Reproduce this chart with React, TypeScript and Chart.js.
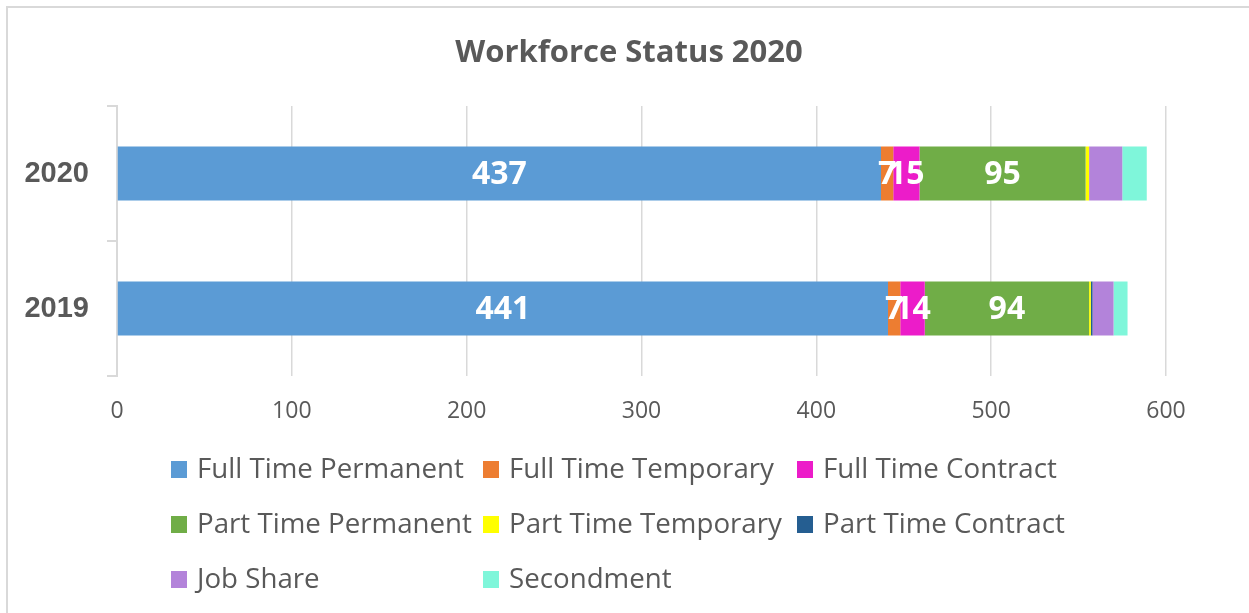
import React, { useEffect, useRef } from "react";
import Chart from "chart.js/auto";

// ---------- Data ----------
const TITLE = "Workforce Status 2020";
const CATEGORIES = ["2020", "2019"];

const FULL_TIME_PERMANENT = [437, 441];
const FULL_TIME_TEMPORARY = [7, 7];
const FULL_TIME_CONTRACT = [15, 14];
const PART_TIME_PERMANENT = [95, 94];
const PART_TIME_TEMPORARY = [2, 1];
const PART_TIME_CONTRACT = [0, 1];
const JOB_SHARE = [19, 12];
const SECONDMENT = [14, 8];

const SERIES_NAMES = [
  "Full Time Permanent",
  "Full Time Temporary",
  "Full Time Contract",
  "Part Time Permanent",
  "Part Time Temporary",
  "Part Time Contract",
  "Job Share",
  "Secondment",
];
const SERIES_VALUES = [
  FULL_TIME_PERMANENT,
  FULL_TIME_TEMPORARY,
  FULL_TIME_CONTRACT,
  PART_TIME_PERMANENT,
  PART_TIME_TEMPORARY,
  PART_TIME_CONTRACT,
  JOB_SHARE,
  SECONDMENT,
];
const SERIES_COLORS = [
  "#5B9BD5",
  "#ED7D31",
  "#EC1CC9",
  "#70AD47",
  "#FFFF00",
  "#255E91",
  "#B383DA",
  "#7FF6DA",
];
const SHOW_VALUE_LABEL = [true, true, true, true, false, false, false, false];

const X_MIN = 0;
const X_MAX = 600;
const X_STEP = 100;

// ---------- Styling ----------
const TEXT_COLOR = "#595959";
const GRID_COLOR = "#d9d9d9";
const SANS = "'Open Sans', 'Noto Sans', sans-serif";

const framePlugin = {
  id: "frame",
  beforeDraw(chart: any) {
    const ctx = chart.ctx;
    ctx.save();
    ctx.fillStyle = "#ffffff";
    ctx.fillRect(0, 0, chart.width, chart.height);
    ctx.strokeStyle = GRID_COLOR;
    ctx.lineWidth = 2;
    ctx.beginPath();
    ctx.moveTo(7, chart.height + 5);
    ctx.lineTo(7, 7);
    ctx.lineTo(chart.width + 5, 7);
    ctx.stroke();
    ctx.restore();
  },
};

const valueLabelPlugin = {
  id: "valueLabels",
  afterDatasetsDraw(chart: any) {
    const ctx = chart.ctx;
    ctx.save();
    ctx.fillStyle = "#ffffff";
    ctx.font = `bold 32px ${SANS}`;
    ctx.textAlign = "center";
    ctx.textBaseline = "middle";
    chart.data.datasets.forEach((ds: any, i: number) => {
      if (!SHOW_VALUE_LABEL[i]) return;
      const meta = chart.getDatasetMeta(i);
      meta.data.forEach((bar: any, j: number) => {
        const v = ds.data[j];
        if (!v) return;
        const cx = (bar.x + bar.base) / 2;
        ctx.fillText(String(v), cx, bar.y + 1);
      });
    });
    ctx.restore();
  },
};

const titleLegendPlugin = {
  id: "titleLegend",
  afterDraw(chart: any) {
    const ctx = chart.ctx;
    ctx.save();
    // Title
    ctx.fillStyle = TEXT_COLOR;
    ctx.font = `bold 31px ${SANS}`;
    ctx.textAlign = "center";
    ctx.textBaseline = "alphabetic";
    ctx.fillText(TITLE, 629, 61.5);

    // Legend (3 columns)
    const colBoxX = [171, 483, 797];
    const rowBaseline = [478, 533, 588];
    ctx.font = `27.7px ${SANS}`;
    ctx.textAlign = "left";
    chart.data.datasets.forEach((ds: any, i: number) => {
      const col = i % 3;
      const row = Math.floor(i / 3);
      const bx = colBoxX[col];
      const by = rowBaseline[row];
      ctx.fillStyle = ds.backgroundColor;
      ctx.fillRect(bx, by - 17, 16, 17);
      ctx.fillStyle = TEXT_COLOR;
      ctx.fillText(ds.label, bx + 26, by);
    });
    ctx.restore();
  },
};

export default function App() {
  const canvasRef = useRef<HTMLCanvasElement | null>(null);

  useEffect(() => {
    document.body.style.margin = "0";
    document.body.style.overflow = "hidden";
    const canvas = canvasRef.current;
    if (!canvas) return;

    const chart = new Chart(canvas, {
      type: "bar",
      data: {
        labels: CATEGORIES,
        datasets: SERIES_NAMES.map((name, i) => ({
          label: name,
          data: SERIES_VALUES[i],
          backgroundColor: SERIES_COLORS[i],
          borderWidth: 0,
          barPercentage: 0.4,
          categoryPercentage: 1,
        })),
      },
      options: {
        indexAxis: "y",
        animation: false,
        responsive: true,
        maintainAspectRatio: false,
        layout: { padding: { top: 106, right: 83, bottom: 177, left: 0 } },
        plugins: {
          legend: { display: false },
          title: { display: false },
          tooltip: { enabled: false },
        },
        scales: {
          x: {
            type: "linear",
            stacked: true,
            min: X_MIN,
            max: X_MAX,
            ticks: {
              stepSize: X_STEP,
              color: TEXT_COLOR,
              font: { family: SANS, size: 23 },
              padding: 22,
            },
            grid: { color: GRID_COLOR, lineWidth: 1.5, drawTicks: false },
            border: { display: false },
            afterFit: (s: any) => {
              s.height = 60;
            },
          },
          y: {
            type: "category",
            stacked: true,
            offset: true,
            ticks: {
              color: TEXT_COLOR,
              font: { family: "'Liberation Sans', Arial, sans-serif", size: 29, weight: "bold" },
              padding: 18,
            },
            grid: {
              offset: true,
              drawOnChartArea: false,
              drawTicks: true,
              tickLength: 10,
              color: GRID_COLOR,
              lineWidth: 2,
            },
            border: { display: true, color: GRID_COLOR, width: 2 },
            afterFit: (s: any) => {
              s.width = 117;
            },
          },
        },
      } as any,
      plugins: [framePlugin, valueLabelPlugin, titleLegendPlugin],
    });

    let alive = true;
    if ((document as any).fonts) {
      Promise.all([
        document.fonts.load(`27px 'Open Sans'`),
        document.fonts.load(`bold 31px 'Open Sans'`),
        document.fonts.load(`bold 29px 'Liberation Sans'`),
      ])
        .then(() => {
          if (alive) chart.update();
        })
        .catch(() => {});
    }

    return () => {
      alive = false;
      chart.destroy();
    };
  }, []);

  return (
    <div style={{ position: "absolute", left: 0, top: 0, width: 1249, height: 613 }}>
      <canvas ref={canvasRef} />
    </div>
  );
}
